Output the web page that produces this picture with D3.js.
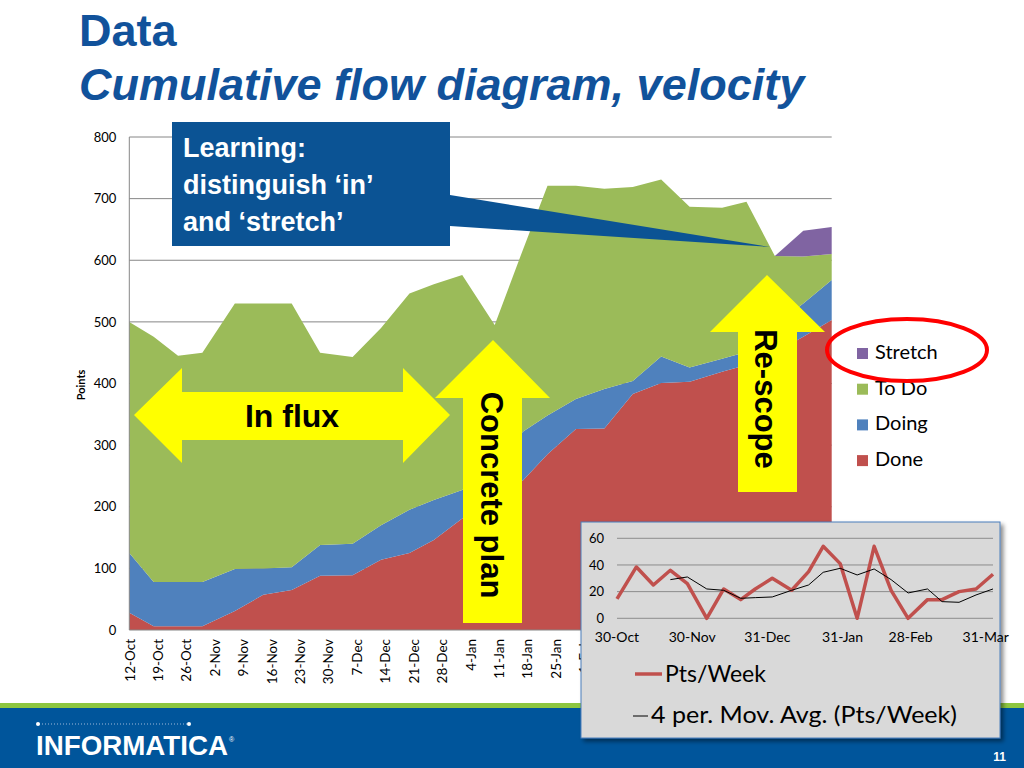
<!DOCTYPE html>
<html><head><meta charset="utf-8">
<script src="https://cdn.jsdelivr.net/npm/d3@7"></script>
<style>body{margin:0;background:#fff;overflow:hidden} svg{display:block}</style>
</head><body>
<svg id="c" width="1024" height="768"></svg>
<script>
// ---- data ----
const dates = ["2009-10-12","2009-10-18","2009-10-24","2009-10-30","2009-11-07","2009-11-14","2009-11-21","2009-11-28","2009-12-06","2009-12-13","2009-12-20","2009-12-26","2010-01-02","2010-01-10","2010-01-17","2010-01-23","2010-01-30","2010-02-06","2010-02-13","2010-02-20","2010-02-27","2010-03-07","2010-03-13","2010-03-20","2010-03-27","2010-04-03"];
const done    = [28, 6, 6, 6, 31, 57, 65, 88, 89, 114, 125, 146, 181, 212, 243, 285, 326, 327, 383, 401, 403, 419, 430, 450, 476, 503];
const doing   = [97, 72, 72, 72, 68, 43, 37, 50, 51, 56, 70, 65, 46, 58, 79, 63, 49, 64, 21, 43, 23, 21, 21, 45, 54, 65];
const todo    = [375, 398, 367, 372, 431, 430, 428, 312, 303, 320, 351, 350, 349, 225, 296, 373, 346, 325, 315, 287, 261, 245, 244, 112, 76, 42];
const stretch = [0, 0, 0, 0, 0, 0, 0, 0, 0, 0, 0, 0, 0, 0, 0, 0, 0, 0, 0, 0, 0, 0, 0, 0, 42, 44];
const seriesNames = ["Done", "Doing", "To Do", "Stretch"];
const yTicks = [0, 100, 200, 300, 400, 500, 600, 700, 800];
const xTickDates = ["2009-10-12","2009-10-19","2009-10-26","2009-11-02","2009-11-09","2009-11-16","2009-11-23","2009-11-30","2009-12-07","2009-12-14","2009-12-21","2009-12-28","2010-01-04","2010-01-11","2010-01-18","2010-01-25","2010-02-01","2010-02-08","2010-02-15","2010-02-22","2010-03-01","2010-03-08","2010-03-15","2010-03-22","2010-03-29"];

// inset: velocity
const velDates = ["2009-10-30","2009-11-07","2009-11-14","2009-11-21","2009-11-28","2009-12-06","2009-12-13","2009-12-20","2009-12-26","2010-01-02","2010-01-10","2010-01-17","2010-01-23","2010-01-30","2010-02-06","2010-02-13","2010-02-20","2010-02-27","2010-03-07","2010-03-13","2010-03-20","2010-03-27","2010-04-03"];
const ptsWeek = [14.5, 38.5, 25, 36, 26, 0, 22, 14, 22, 30, 21, 35, 54, 41, 0, 54, 21, 0, 14, 14, 20, 22, 33];
const movAvg  = [null, null, null, 29, 31, 22, 21, 15, 15.5, 16, 21, 25, 34.5, 37.5, 32.5, 37, 29, 19, 22, 12.5, 12, 17.5, 22];
const insetYTicks = [0, 20, 40, 60];
const insetXTicks = ["2009-10-30","2009-11-30","2009-12-31","2010-01-31","2010-02-28","2010-03-31"];

const colors = {"Done":"#C0504D","Doing":"#4F81BD","To Do":"#9BBB59","Stretch":"#8064A2"};
const parse = d3.timeParse("%Y-%m-%d");
const fmt = d3.timeFormat("%-d-%b");
const chartFont = "Lato, 'Open Sans', sans-serif";
const arial = "'Liberation Sans', Arial, sans-serif";

const svg = d3.select("#c");

// ---- title ----
svg.append("text").attr("x", 79).attr("y", 46).attr("fill", "#11529B")
  .style("font", "bold 45px " + arial).text("Data");
svg.append("text").attr("x", 79).attr("y", 100).attr("fill", "#11529B")
  .style("font", "italic bold 45px " + arial).text("Cumulative flow diagram, velocity");

// ---- main chart ----
const rows = dates.map((d, i) => ({date: parse(d), "Done": done[i], "Doing": doing[i], "To Do": todo[i], "Stretch": stretch[i]}));
const x = d3.scaleTime().domain(d3.extent(rows, r => r.date)).range([129.3, 831.7]);
const y = d3.scaleLinear().domain([0, 800]).range([630, 137]);

const g = svg.append("g");
g.selectAll("line.grid").data(yTicks.filter(t => t > 0)).join("line")
  .attr("x1", x.range()[0]).attr("x2", x.range()[1])
  .attr("y1", d => y(d)).attr("y2", d => y(d))
  .attr("stroke", "#868686").attr("stroke-width", 1);

const stacked = d3.stack().keys(seriesNames)(rows);
stacked.forEach(layer => {
  const area = d3.area()
    .x(d => x(d.data.date)).y0(d => y(d[0])).y1(d => y(d[1]))
    .defined((d, i) => layer.key !== "Stretch" || i >= 23);
  g.append("path").datum(layer).attr("d", area).attr("fill", colors[layer.key]);
});

// axes
g.append("line").attr("x1", x.range()[0]).attr("x2", x.range()[0]).attr("y1", y(800)).attr("y2", y(0)).attr("stroke", "#868686");
g.append("line").attr("x1", x.range()[0]).attr("x2", x.range()[1]).attr("y1", y(0)).attr("y2", y(0)).attr("stroke", "#868686");

const yAxis = g.append("g").attr("transform", `translate(${x.range()[0]},0)`)
  .call(d3.axisLeft(y).tickValues(yTicks).tickSize(0).tickPadding(13));
yAxis.select(".domain").remove();
yAxis.selectAll("text").style("font", "13px " + chartFont).attr("fill", "#000");

const xAxis = g.append("g").attr("transform", `translate(0,${y(0)})`)
  .call(d3.axisBottom(x).tickValues(xTickDates.map(parse)).tickFormat(fmt).tickSize(0));
xAxis.select(".domain").remove();
xAxis.selectAll("text")
  .attr("transform", "rotate(-90)").attr("x", -9).attr("y", 0).attr("dy", "0.35em")
  .style("text-anchor", "end").style("font", "13.5px " + chartFont).attr("fill", "#000");

svg.append("text").attr("transform", "translate(85,385) rotate(-90)").attr("text-anchor", "middle")
  .style("font", "bold 11px " + chartFont).text("Points");

// legend
const legendOrder = ["Stretch", "To Do", "Doing", "Done"];
const lg = svg.append("g");
legendOrder.forEach((k, i) => {
  const by = 359 + i * 35.7;
  lg.append("rect").attr("x", 857).attr("y", by - 11).attr("width", 11).attr("height", 11).attr("fill", colors[k]);
  lg.append("text").attr("x", 875).attr("y", by).style("font", "20px " + chartFont).attr("fill", "#000").text(k);
});

// ---- annotations ----
const navy = "#0B5394";
svg.append("polygon").attr("points", "450,195 770,247 450,226").attr("fill", navy);
svg.append("rect").attr("x", 172).attr("y", 122).attr("width", 278).attr("height", 124).attr("fill", navy);
["Learning:", "distinguish \u2018in\u2019", "and \u2018stretch\u2019"].forEach((t, i) => {
  svg.append("text").attr("x", 183).attr("y", 157 + i * 37).attr("fill", "#fff")
    .style("font", "bold 27px " + arial).text(t);
});

const yellow = "#FFFF00";
svg.append("polygon").attr("fill", yellow)
  .attr("points", "134,415 182,368 182,392 403,392 403,368 450,415 403,463 403,440 182,440 182,463");
svg.append("text").attr("x", 292).attr("y", 427).attr("text-anchor", "middle")
  .style("font", "bold 32px " + arial).text("In flux");

svg.append("polygon").attr("fill", yellow)
  .attr("points", "493,340 550,398 522,398 522,623 463,623 463,398 435,398");
svg.append("text").attr("transform", "translate(481,495) rotate(90)").attr("text-anchor", "middle")
  .style("font", "bold 31px " + arial).text("Concrete plan");

svg.append("polygon").attr("fill", yellow)
  .attr("points", "767,275 825,332 797,332 797,492 738,492 738,332 710,332");
svg.append("text").attr("transform", "translate(755,399) rotate(90)").attr("text-anchor", "middle")
  .style("font", "bold 31px " + arial).text("Re-scope");

// red ellipse around Stretch legend
svg.append("ellipse").attr("cx", 907).attr("cy", 350).attr("rx", 80).attr("ry", 31)
  .attr("fill", "none").attr("stroke", "#FF0000").attr("stroke-width", 4);

// ---- footer ----
svg.append("rect").attr("x", 0).attr("y", 703).attr("width", 1024).attr("height", 6).attr("fill", "#8DC63F");
svg.append("rect").attr("x", 0).attr("y", 708).attr("width", 1024).attr("height", 60).attr("fill", "#00559B");
svg.append("line").attr("x1", 39).attr("x2", 188).attr("y1", 724).attr("y2", 724)
  .attr("stroke", "#9DB8D8").attr("stroke-width", 1).attr("stroke-dasharray", "1,2");
svg.append("circle").attr("cx", 38).attr("cy", 724).attr("r", 2).attr("fill", "#fff");
svg.append("circle").attr("cx", 189).attr("cy", 724).attr("r", 2).attr("fill", "#fff");
svg.append("text").attr("x", 36).attr("y", 755).attr("fill", "#fff")
  .attr("textLength", 192).attr("lengthAdjust", "spacingAndGlyphs")
  .style("font", "bold 28px 'Liberation Sans Narrow', 'Liberation Sans', sans-serif").text("INFORMATICA");
svg.append("text").attr("x", 229).attr("y", 742).attr("fill", "#fff").style("font", "7px " + arial).text("\u00AE");
svg.append("text").attr("x", 1006).attr("y", 761).attr("text-anchor", "end").attr("fill", "#fff")
  .style("font", "bold 12px " + arial).text("11");

// ---- inset velocity chart ----
const defs = svg.append("defs");
const f = defs.append("filter").attr("id", "sh").attr("x", "-5%").attr("y", "-5%").attr("width", "115%").attr("height", "115%");
f.append("feDropShadow").attr("dx", 3).attr("dy", 3).attr("stdDeviation", 2).attr("flood-color", "#000").attr("flood-opacity", 0.45);

const ig = svg.append("g");
ig.append("rect").attr("x", 581).attr("y", 522).attr("width", 419).attr("height", 216)
  .attr("fill", "#D9D9D9").attr("stroke", "#4A7EBB").attr("stroke-width", 1).attr("filter", "url(#sh)");

const vDates = velDates.map(parse);
const xi = d3.scaleTime().domain(d3.extent(vDates)).range([617, 993]);
const yi = d3.scaleLinear().domain([0, 60]).range([618.3, 538.3]);

ig.selectAll("line.ig").data(insetYTicks).join("line")
  .attr("x1", 617).attr("x2", 993).attr("y1", d => yi(d)).attr("y2", d => yi(d))
  .attr("stroke", "#8C8C8C").attr("stroke-width", 1);
ig.selectAll("text.iy").data(insetYTicks).join("text")
  .attr("x", 604).attr("y", d => yi(d)).attr("dy", "0.35em").attr("text-anchor", "end")
  .style("font", "13px " + chartFont).text(d => d);
ig.selectAll("text.ix").data(insetXTicks.map(parse)).join("text")
  .attr("x", d => xi(d)).attr("y", 642).attr("text-anchor", "middle")
  .style("font", "14px " + chartFont).text(d => fmt(d));

const vel = vDates.map((d, i) => ({date: d, pts: ptsWeek[i], ma: movAvg[i]}));
ig.append("path").datum(vel)
  .attr("d", d3.line().x(d => xi(d.date)).y(d => yi(d.pts)))
  .attr("fill", "none").attr("stroke", "#C0504D").attr("stroke-width", 3.5).attr("stroke-linejoin", "round");
ig.append("path").datum(vel)
  .attr("d", d3.line().defined(d => d.ma !== null).x(d => xi(d.date)).y(d => yi(d.ma)))
  .attr("fill", "none").attr("stroke", "#000").attr("stroke-width", 1);

ig.append("line").attr("x1", 635).attr("x2", 662).attr("y1", 674).attr("y2", 674).attr("stroke", "#C0504D").attr("stroke-width", 3.5);
ig.append("text").attr("x", 665).attr("y", 682).style("font", "23px " + chartFont).text("Pts/Week");
ig.append("line").attr("x1", 633).attr("x2", 648).attr("y1", 716).attr("y2", 716).attr("stroke", "#000").attr("stroke-width", 1);
ig.append("text").attr("x", 651).attr("y", 723).attr("textLength", 306).attr("lengthAdjust", "spacingAndGlyphs")
  .style("font", "23px " + chartFont).text("4 per. Mov. Avg. (Pts/Week)");
</script>
</body></html>
